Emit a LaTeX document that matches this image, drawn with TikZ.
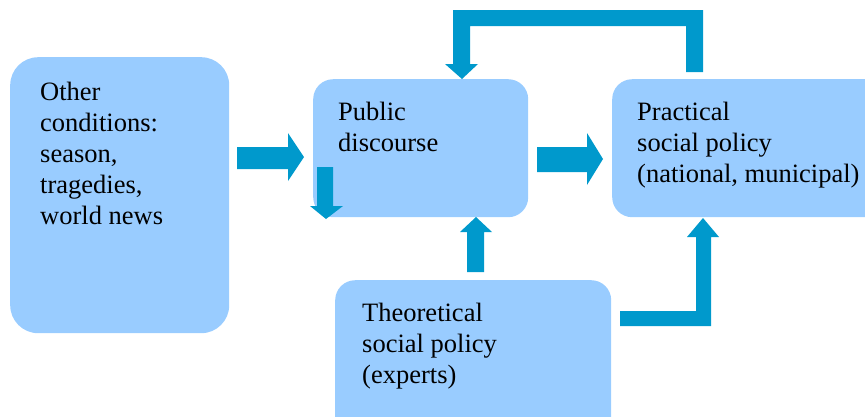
\documentclass[tikz,border=0pt]{standalone}
\usepackage{fontspec}
\setmainfont{Liberation Serif}
\definecolor{boxblue}{HTML}{99CCFF}
\definecolor{arrowblue}{HTML}{0099CC}
\begin{document}
\begin{tikzpicture}[x=1pt,y=-1pt,
  box/.style={draw=none,fill=boxblue,rectangle,anchor=north west,inner sep=0pt},
  lbl/.style={anchor=base west,align=left,inner sep=0pt,font=\fontsize{26.5}{30.8}\selectfont},
  blockarrow/.style={fill=arrowblue,draw=none}]
\useasboundingbox (0,0) rectangle (865,416);
\clip (0,0) rectangle (865,416);
\node[box,rounded corners=28pt,minimum width=219pt,minimum height=276pt] (other) at (10,57) {};
\node[box,rounded corners=20pt,minimum width=215pt,minimum height=138pt] (public) at (313,79) {};
\node[box,rounded corners=20pt,minimum width=290pt,minimum height=138pt] (practical) at (612,79) {};
\node[box,rounded corners=20pt,minimum width=276pt,minimum height=170pt] (theory) at (335,280) {};
% base anchor = baseline of last line
\node[lbl] (tother) at (40,224) {Other\\conditions:\\season,\\tragedies,\\world news};
\node[lbl] (tpublic) at (338,151) {Public\\discourse};
\node[lbl] (tpractical) at (637,182) {Practical\\social policy\\(national, municipal)};
\node[lbl] (ttheory) at (362,383) {Theoretical\\social policy\\(experts)};
% other -> public
\fill[blockarrow] (237,147) -- (288,147) -- (288,133) -- (304,157) -- (288,181) -- (288,169) -- (237,169) -- cycle;
% small down arrow in public
\fill[blockarrow] (317,167) -- (333,167) -- (333,206) -- (343,206) -- (326,219) -- (310,206) -- (317,206) -- cycle;
% public -> practical
\fill[blockarrow] (537,147) -- (587,147) -- (587,133) -- (603,159) -- (587,185) -- (587,172) -- (537,172) -- cycle;
% theory -> public
\fill[blockarrow] (467,272) -- (467,232) -- (460,232) -- (476,217) -- (492,232) -- (484,232) -- (484,272) -- cycle;
% practical -> public (loop)
\fill[blockarrow] (686,72) -- (686,26) -- (470,26) -- (470,64) -- (478,64) -- (462,79) -- (445,64) -- (453,64) -- (453,10) -- (703,10) -- (703,72) -- cycle;
% theory -> practical
\fill[blockarrow] (620,311) -- (696,311) -- (696,237) -- (687,237) -- (703,218) -- (719,237) -- (711,237) -- (711,326) -- (620,326) -- cycle;
\end{tikzpicture}
\end{document}
